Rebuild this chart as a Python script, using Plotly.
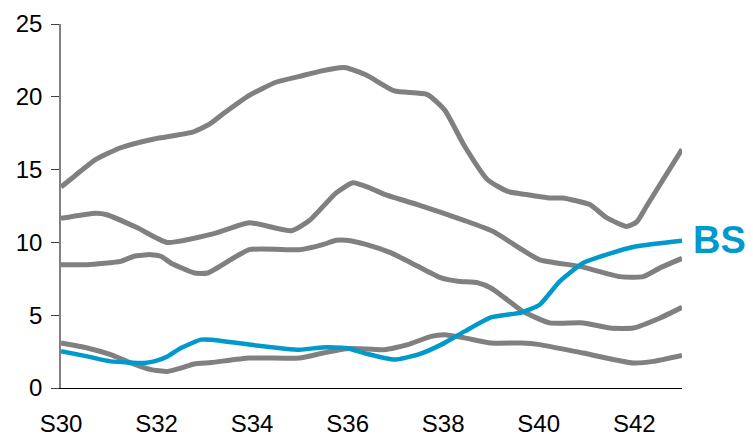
import plotly.graph_objects as go

# Weekly series (x in week numbers, values on the 0-25 scale)
wk_a = [30.0, 30.3, 30.73, 31.25, 31.95, 32.73, 33.1, 33.38, 33.94, 34.5, 34.99, 35.41, 35.83, 35.97,
        36.39, 36.98, 37.67, 38.03, 38.45, 38.93, 39.35, 39.71, 40.23, 40.5, 41.07, 41.42, 41.84,
        42.05, 42.26, 43.0]
val_a = [13.8, 14.6, 15.7, 16.5, 17.1, 17.55, 18.1, 18.8, 20.1, 21.0, 21.4, 21.75, 22.0, 22.0,
         21.5, 20.4, 20.15, 19.1, 16.6, 14.3, 13.5, 13.3, 13.05, 13.05, 12.6, 11.7, 11.1,
         11.4, 12.5, 16.4]

wk_b = [30.0, 30.73, 30.96, 31.6, 32.22, 33.2, 33.94, 34.82, 35.2, 35.76, 36.11, 36.46, 36.77,
        37.46, 38.45, 39.05, 39.65, 40.02, 40.86, 41.7, 42.19, 42.54, 43.0]
val_b = [11.65, 12.0, 11.9, 11.0, 10.0, 10.6, 11.35, 10.8, 11.5, 13.4, 14.1, 13.75, 13.3,
         12.6, 11.5, 10.75, 9.5, 8.8, 8.35, 7.65, 7.65, 8.25, 8.9]

wk_c = [30.0, 30.55, 31.25, 31.53, 31.88, 32.09, 32.3, 32.79, 33.07, 33.94, 34.99, 35.48, 35.76,
        35.97, 36.4, 36.91, 37.47, 37.96, 38.31, 38.73, 39.0, 39.29, 39.65, 40.23, 40.93, 41.49,
        41.98, 42.54, 43.0]
val_c = [8.47, 8.47, 8.7, 9.05, 9.16, 9.05, 8.59, 7.9, 7.9, 9.5, 9.5, 9.85, 10.15,
         10.15, 9.85, 9.28, 8.36, 7.56, 7.33, 7.22, 6.87, 6.19, 5.3, 4.47, 4.47, 4.12,
         4.12, 4.81, 5.54]

wk_d = [30.0, 30.55, 31.04, 31.46, 31.88, 32.23, 32.51, 32.79, 33.15, 33.94, 34.99, 35.48, 35.97,
        36.4, 36.77, 37.26, 37.75, 38.03, 38.45, 39.0, 39.65, 40.02, 40.93, 41.98, 42.4, 43.0]
val_d = [3.09, 2.75, 2.29, 1.72, 1.26, 1.14, 1.37, 1.65, 1.75, 2.06, 2.06, 2.4, 2.7,
         2.68, 2.63, 2.98, 3.55, 3.66, 3.44, 3.09, 3.09, 2.98, 2.4, 1.72, 1.83, 2.24]

wk_bs = [30.0, 30.55, 31.04, 31.74, 31.95, 32.23, 32.51, 32.93, 33.15, 33.94, 34.99, 35.48, 35.97,
         36.4, 36.98, 37.47, 37.96, 38.45, 39.0, 39.65, 40.02, 40.44, 40.93, 41.42, 42.05, 43.0]
val_bs = [2.52, 2.17, 1.83, 1.72, 1.83, 2.17, 2.75, 3.32, 3.32, 2.98, 2.63, 2.79, 2.75,
          2.35, 1.95, 2.29, 2.98, 3.89, 4.85, 5.2, 5.72, 7.33, 8.59, 9.16, 9.73, 10.12]

tick_weeks = [30, 32, 34, 36, 38, 40, 42]
tick_labels = ["S30", "S32", "S34", "S36", "S38", "S40", "S42"]
y_ticks = [0, 5, 10, 15, 20, 25]

GREY = "#808080"
BLUE = "#0099CC"
FONT = "Liberation Sans, Arial, sans-serif"

fig = go.Figure()
for wx, wy in [(wk_a, val_a), (wk_b, val_b), (wk_c, val_c), (wk_d, val_d)]:
    fig.add_trace(go.Scatter(x=wx, y=wy, mode="lines",
                             line=dict(color=GREY, width=5, shape="spline", smoothing=0.5),
                             hoverinfo="skip"))
fig.add_trace(go.Scatter(x=wk_bs, y=val_bs, mode="lines", name="BS",
                         line=dict(color=BLUE, width=4.5, shape="spline", smoothing=0.5)))

fig.add_annotation(x=wk_bs[-1], y=val_bs[-1], text="<b>BS</b>", showarrow=False,
                   xanchor="left", yanchor="middle", xshift=9, yshift=1,
                   font=dict(family=FONT, size=38, color=BLUE))

fig.update_layout(
    width=753, height=436,
    margin=dict(l=61, r=71, t=24, b=48, autoexpand=False),
    paper_bgcolor="white", plot_bgcolor="white",
    showlegend=False,
    font=dict(family=FONT, size=24, color="#000000"),
    xaxis=dict(range=[30, 43], tickvals=tick_weeks, ticktext=tick_labels,
               showgrid=False, zeroline=False, showline=True, linecolor="#000000",
               linewidth=1, ticks="", ticklabelstandoff=14, automargin=False,
               tickfont=dict(size=24)),
    yaxis=dict(range=[0, 25], tickvals=y_ticks, showgrid=False, zeroline=False,
               showline=True, linecolor=GREY, linewidth=1.5, automargin=False,
               ticks="outside", ticklen=8, tickcolor="#404040", tickwidth=1,
               ticklabelstandoff=4, tickfont=dict(size=24)),
)

fig.write_html("out.html")
